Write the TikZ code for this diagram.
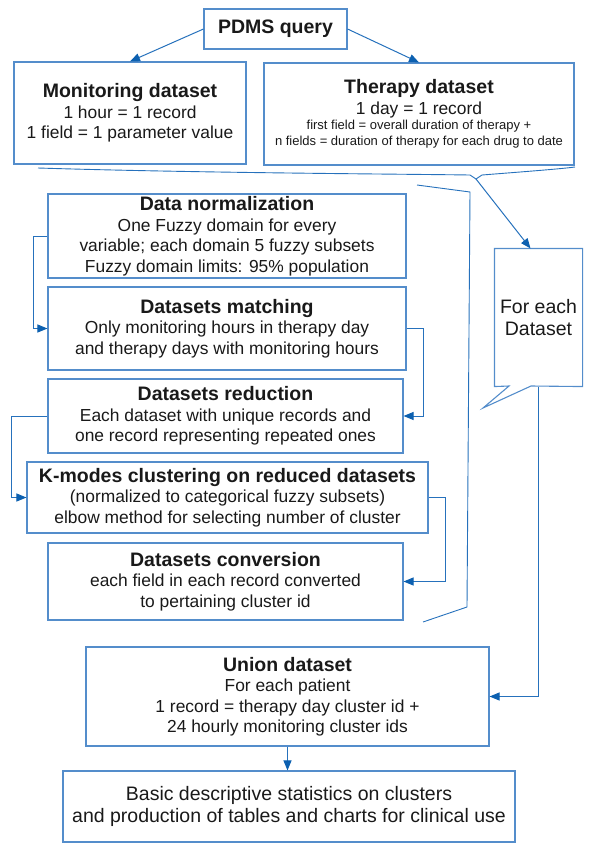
\documentclass[tikz,border=0pt]{standalone}
\usepackage{fontspec}
\setmainfont{Liberation Sans}
\usetikzlibrary{arrows.meta}
\definecolor{boxblue}{RGB}{84,141,203}
\definecolor{lineblue}{RGB}{38,113,188}
\definecolor{tipblue}{RGB}{12,96,176}
\def\hd{\fontsize{19.5}{22}\selectfont\bfseries}
\def\bd{\fontsize{17.4}{20.5}\selectfont}
\def\sm{\fontsize{13}{15}\selectfont}
\def\lg{\fontsize{19.5}{22}\selectfont}
\tikzset{
	box/.style={draw=boxblue, line width=1.1pt, rectangle, align=center, inner sep=0pt, text=black!90, font=\bd},
	flow/.style={draw=lineblue, line width=1pt, -{Triangle[length=10pt,width=8pt,color=tipblue]}},
	rim/.style={draw=lineblue, line width=0.9pt},
}

\begin{document}
\begin{tikzpicture}[x=1pt, y=-1pt]
		%%%%% START %%%%%
		\useasboundingbox (0,0) rectangle (589,852);
		
		\node[box, minimum width=143pt, minimum height=40pt] (query) at (275.5,29) {{\hd PDMS query}};
		\node[box, minimum width=232pt, minimum height=102pt] (mon) at (130,113) {{\hd Monitoring dataset}\\1 hour = 1 record\\1 field = 1 parameter value};
		\node[box, minimum width=310pt, minimum height=102pt] (ther) at (419,114) {{\hd Therapy dataset}\\1 day = 1 record\\[-5pt]{\sm first field = overall duration of therapy +}\\[-5pt]{\sm n fields = duration of therapy for each drug to date}};
		
		\node[box, minimum width=358pt, minimum height=84pt] (norm) at (227,236) {{\hd Data normalization}\\One Fuzzy domain for every\\variable; each domain 5 fuzzy subsets\\Fuzzy domain limits: 95\% population};
		\node[box, minimum width=358pt, minimum height=83pt] (match) at (227,328.5) {{\hd Datasets matching}\\Only monitoring hours in therapy day\\and therapy days with monitoring hours};
		\node[box, minimum width=355pt, minimum height=74pt] (red) at (225.5,416) {{\hd Datasets reduction}\\Each dataset with unique records and\\one record representing repeated ones};
		\node[box, minimum width=401pt, minimum height=71pt] (kmod) at (227.5,497.5) {{\hd K-modes clustering on reduced datasets}\\(normalized to categorical fuzzy subsets)\\elbow method for selecting number of cluster};
		\node[box, minimum width=355pt, minimum height=77pt] (conv) at (225.5,581.5) {{\hd Datasets conversion}\\each field in each record converted\\to pertaining cluster id};
		
		\node[box, draw=none, minimum width=87pt, minimum height=137pt, font=\lg] (call) at (538.5,317.5) {For each\\Dataset};
		\draw[draw=boxblue, line width=1.1pt] (call.north west) -- (call.north east) -- (call.south east) -- (531,386) -- (483,408) -- (509,386) -- (call.south west) -- cycle;
		
		\node[box, minimum width=403pt, minimum height=99pt] (union) at (287.5,696.5) {{\hd Union dataset}\\For each patient\\1 record = therapy day cluster id +\\24 hourly monitoring cluster ids};
		\node[box, minimum width=452pt, minimum height=71pt, font=\lg] (basic) at (289,806.5) {Basic descriptive statistics on clusters\\and production of tables and charts for clinical use};
		
		% brace under the two datasets, bracket round the steps
		\draw[rim] (38,168) .. controls (200,173) and (400,174) .. (470,175) -- (476,179) -- (482,175) .. controls (520,172) and (560,169) .. (575,167);
		\coordinate (btip) at (476,179);
		\draw[rim] (417,185) -- (470,192) -- (467,607) -- (423,622);
		
		\draw[flow] (query.west) -- (mon.north);
		\draw[flow] (query.east) -- (ther.north);
		\draw[flow] (btip) -- ([xshift=-8pt]call.north);
		\draw[flow] (norm.west) -- ++(-14,0) |- (match.west);
		\draw[flow] (match.east) -- ++(17,0) |- (red.east);
		\draw[flow] (red.west) -- ++(-36,0) |- (kmod.west);
		\draw[flow] (kmod.east) -- ++(17,0) |- (conv.east);
		\draw[flow] (call.south) |- (union.east);
		\draw[flow] (union.south) -- (union.south |- basic.north);
		%%%%% END %%%%%
	\end{tikzpicture}
\end{document}
